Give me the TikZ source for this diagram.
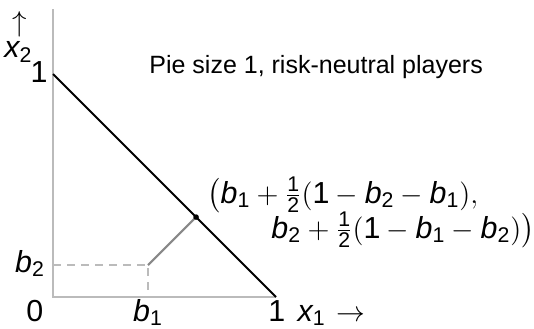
\documentclass[tikz,border=0pt]{standalone}
\usepackage{amsmath}
\usepackage{fontspec}
\setmainfont{Liberation Sans}
\usepackage{tikz}
\usetikzlibrary{positioning}
\definecolor{axisgray}{HTML}{BBBBBB}
\definecolor{midgray}{HTML}{888888}
\newcommand{\bsub}[1]{\textit{b}_{\text{#1}}}
\newcommand{\xsub}[1]{\textit{x}_{\text{#1}}}
\newcommand{\halfsf}{\tfrac{\text{1}}{\text{2}}}

\begin{document}
\begin{tikzpicture}[
  x=111.5pt, y=111.5pt,
  font=\fontsize{12.5}{15}\selectfont,
  axis/.style={draw=axisgray, line width=1pt},
  guide/.style={draw=axisgray, line width=1pt, dash pattern=on 4pt off 3pt},
  frontier/.style={draw=black, line width=1pt},
  path/.style={draw=midgray, line width=1pt},
  lbl/.style={inner sep=0pt, font=\fontsize{15.2}{18}\selectfont},
  bl/.style={lbl, anchor=base}
]
\useasboundingbox (-0.2377,-0.139) rectangle (2.157,1.332);
% corner points
\coordinate (O) at (0,0);
\coordinate (Ytop) at (0,1.29);
\coordinate (Xone) at (1,0);
\coordinate (Yone) at (0,1);
\coordinate (B) at (0.426,0.143);
\coordinate (Bx) at (0.426,0);
\coordinate (By) at (0,0.143);
\coordinate (P) at (0.6415,0.3585);
% axes
\draw[axis] (Ytop) -- (O) -- (Xone);
% disagreement point
\draw[guide] (By) -- (B) -- (Bx);
% pie frontier
\draw[frontier] (Yone) -- (Xone);
\draw[path] (B) -- (P);
\fill (P) circle (1.4pt);
% axis labels
\node[bl] (zero) at (-0.081,-0.108) {0};
\node[bl] (lb1) at (0.426,-0.108) {$\bsub{1}$};
\node[bl] (lone) at (1.004,-0.108) {1};
\node[bl] (lx1) at (1.16,-0.108) {$\xsub{1}$};
\node[bl] (rarr) at (1.335,-0.108) {$\rightarrow$};
\node[lbl] (uarr) at (-0.148,1.225) {$\uparrow$};
\node[bl] (lx2) at (-0.155,1.072) {$\xsub{2}$};
\node[bl] (ltop) at (-0.062,0.964) {1};
\node[bl] (lb2) at (-0.103,0.112) {$\bsub{2}$};
% title
\node[inner sep=0pt] (title) at (1.18,1.03) {Pie size 1, risk-neutral players};
% solution point
\node[lbl, anchor=base west] (sol1) at (0.6906,0.4215)
  {$\bigl(\bsub{1}+\halfsf(\text{1}-\bsub{2}-\bsub{1}),$};
\node[lbl, anchor=base west] (sol2) at (0.978,0.2646)
  {$\bsub{2}+\halfsf(\text{1}-\bsub{1}-\bsub{2})\bigr)$};
\end{tikzpicture}
\end{document}
